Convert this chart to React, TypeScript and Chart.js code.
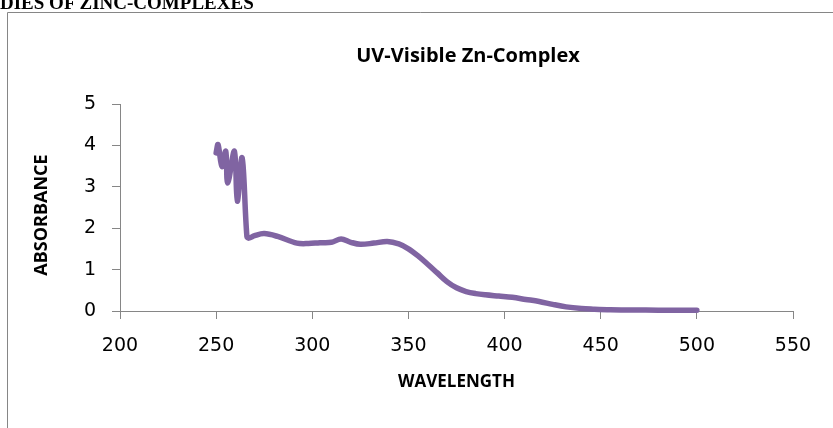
import React, { useEffect, useRef } from "react";
import { Chart, registerables } from "chart.js";

Chart.register(...registerables);

const wavelengths = [250, 251, 253, 255, 256, 259.5, 261, 263.5, 266, 267, 270, 275, 282, 292, 298, 304, 310, 315, 320, 325, 332, 339, 345, 350, 355, 360, 365, 370, 375, 380, 385, 390, 397, 404, 411, 418, 425, 432, 440, 446, 455, 467, 480, 490, 500];
const absorbance = [3.82, 4.02, 3.49, 3.86, 3.09, 3.86, 2.65, 3.7, 1.8, 1.76, 1.82, 1.87, 1.8, 1.64, 1.63, 1.65, 1.66, 1.74, 1.66, 1.61, 1.64, 1.68, 1.62, 1.5, 1.33, 1.13, 0.92, 0.71, 0.56, 0.47, 0.42, 0.39, 0.36, 0.33, 0.28, 0.23, 0.16, 0.1, 0.06, 0.045, 0.03, 0.025, 0.02, 0.02, 0.02];
const chartTitle = "UV-Visible Zn-Complex";
const xTitle = "WAVELENGTH";
const yTitle = "ABSORBANCE";
const headingText = "DIES OF ZINC-COMPLEXES";

const AXIS = "#868686";
const LINE = "#8064A2";

const framePlugin = {
  id: "frame",
  beforeDraw(chart: any) {
    const ctx = chart.ctx;
    ctx.save();
    ctx.strokeStyle = AXIS;
    ctx.lineWidth = 1;
    ctx.beginPath();
    ctx.moveTo(7.5, chart.height);
    ctx.lineTo(7.5, 12.5);
    ctx.lineTo(chart.width, 12.5);
    ctx.stroke();
    ctx.restore();
  },
  afterDraw(chart: any) {
    const ctx = chart.ctx;
    ctx.save();
    ctx.fillStyle = "#000";
    ctx.font = "bold 20px 'Open Sans'";
    ctx.textAlign = "center";
    ctx.textBaseline = "alphabetic";
    ctx.fillText(chartTitle, 468, 62);
    ctx.translate(42, 215);
    ctx.rotate(-Math.PI / 2);
    ctx.font = "bold 18px 'Open Sans'";
    ctx.textBaseline = "middle";
    ctx.fillText(yTitle, 0, 0);
    ctx.restore();
  },
};

export default function App() {
  const ref = useRef<HTMLCanvasElement>(null);
  useEffect(() => {
    if (!ref.current) return;
    const chart = new Chart(ref.current, {
      type: "line",
      data: {
        datasets: [
          {
            data: wavelengths.map((x, i) => ({ x, y: absorbance[i] })),
            borderColor: LINE,
            borderWidth: 5.5,
            borderCapStyle: "round",
            borderJoinStyle: "round",
            pointRadius: 0,
            tension: 0.35,
            fill: false,
            clip: false as any,
          },
        ],
      },
      options: {
        animation: false,
        responsive: false,
        layout: { padding: { left: 0, right: 40, top: 104, bottom: 26 } },
        plugins: { legend: { display: false }, tooltip: { enabled: false }, title: { display: false } },
        scales: {
          x: {
            type: "linear",
            min: 200,
            max: 550,
            ticks: { stepSize: 50, color: "#000", font: { family: "'DejaVu Sans'", size: 19 }, padding: 16, maxRotation: 0 },
            grid: { drawOnChartArea: false, drawTicks: true, tickLength: 8, color: AXIS },
            border: { color: AXIS, width: 1 },
            title: { display: true, text: xTitle, color: "#000", font: { family: "'Open Sans'", size: 17, weight: "bold" }, padding: { top: 0, bottom: 10 } },
            afterFit: (s: any) => { s.height = 91; },
          },
          y: {
            min: 0,
            max: 5,
            ticks: { stepSize: 1, color: "#000", font: { family: "'DejaVu Sans'", size: 19 }, padding: 16 },
            grid: { drawOnChartArea: false, drawTicks: true, tickLength: 8, color: AXIS },
            border: { color: AXIS, width: 1 },
            title: { display: false },
            afterFit: (s: any) => { s.width = 120; },
          },
        },
      },
      plugins: [framePlugin],
    });
    return () => chart.destroy();
  }, []);
  return (
    <div style={{ position: "absolute", left: 0, top: 0, width: 833, height: 428, overflow: "hidden", background: "#fff" }}>
      <div style={{ position: "absolute", left: 0, top: -7, font: "bold 19px 'Liberation Serif'", whiteSpace: "nowrap", lineHeight: "19px" }}>{headingText}</div>
      <canvas ref={ref} width={833} height={428} style={{ display: "block" }} />
    </div>
  );
}
